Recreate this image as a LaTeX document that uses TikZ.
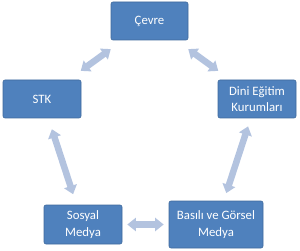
\documentclass[tikz,border=0pt]{standalone}
\usepackage{fontspec}
\setmainfont{Carlito}
\usetikzlibrary{arrows.meta}
\definecolor{boxfill}{HTML}{4F81BD}
\definecolor{boxline}{HTML}{3F6A9C}
\definecolor{arrowc}{HTML}{B3C3DF}
\begin{document}
\begin{tikzpicture}[x=1pt,y=-1pt,
  box/.style={draw=boxline, line width=0.6pt, fill=boxfill, rounded corners=2pt,
    text=white, font=\fontsize{12.8}{16.5}\selectfont, align=center, inner sep=1pt},
  link/.style={draw=arrowc, line width=6.5pt,
    {Triangle[length=8.5pt,width=13pt]}-{Triangle[length=8.5pt,width=13pt]}}]
\useasboundingbox (0,0) rectangle (300,251);
\node[box, minimum width=77pt, minimum height=38pt] (cevre) at (149.5,21) {Çevre};
\node[box, minimum width=78pt, minimum height=38pt] (stk) at (42,99) {STK};
\node[box, minimum width=78pt, minimum height=38pt] (dini) at (257,99) {Dini Eğitim\\Kurumları};
\node[box, minimum width=78pt, minimum height=39pt] (sosyal) at (83,224.5) {Sosyal\\Medya};
\node[box, minimum width=94pt, minimum height=47pt] (basili) at (216,224.5) {Basılı ve Görsel\\Medya};
\draw[link, shorten <=15pt, shorten >=15pt] (stk) -- (cevre);
\draw[link, shorten <=15pt, shorten >=15pt] (cevre) -- (dini);
\draw[link, shorten <=11.5pt, shorten >=11pt] (stk) -- (sosyal);
\draw[link, shorten <=8.5pt, shorten >=8pt] (dini) -- (basili);
\draw[link, shorten <=5pt, shorten >=5pt] (sosyal) -- (basili);
\end{tikzpicture}
\end{document}
